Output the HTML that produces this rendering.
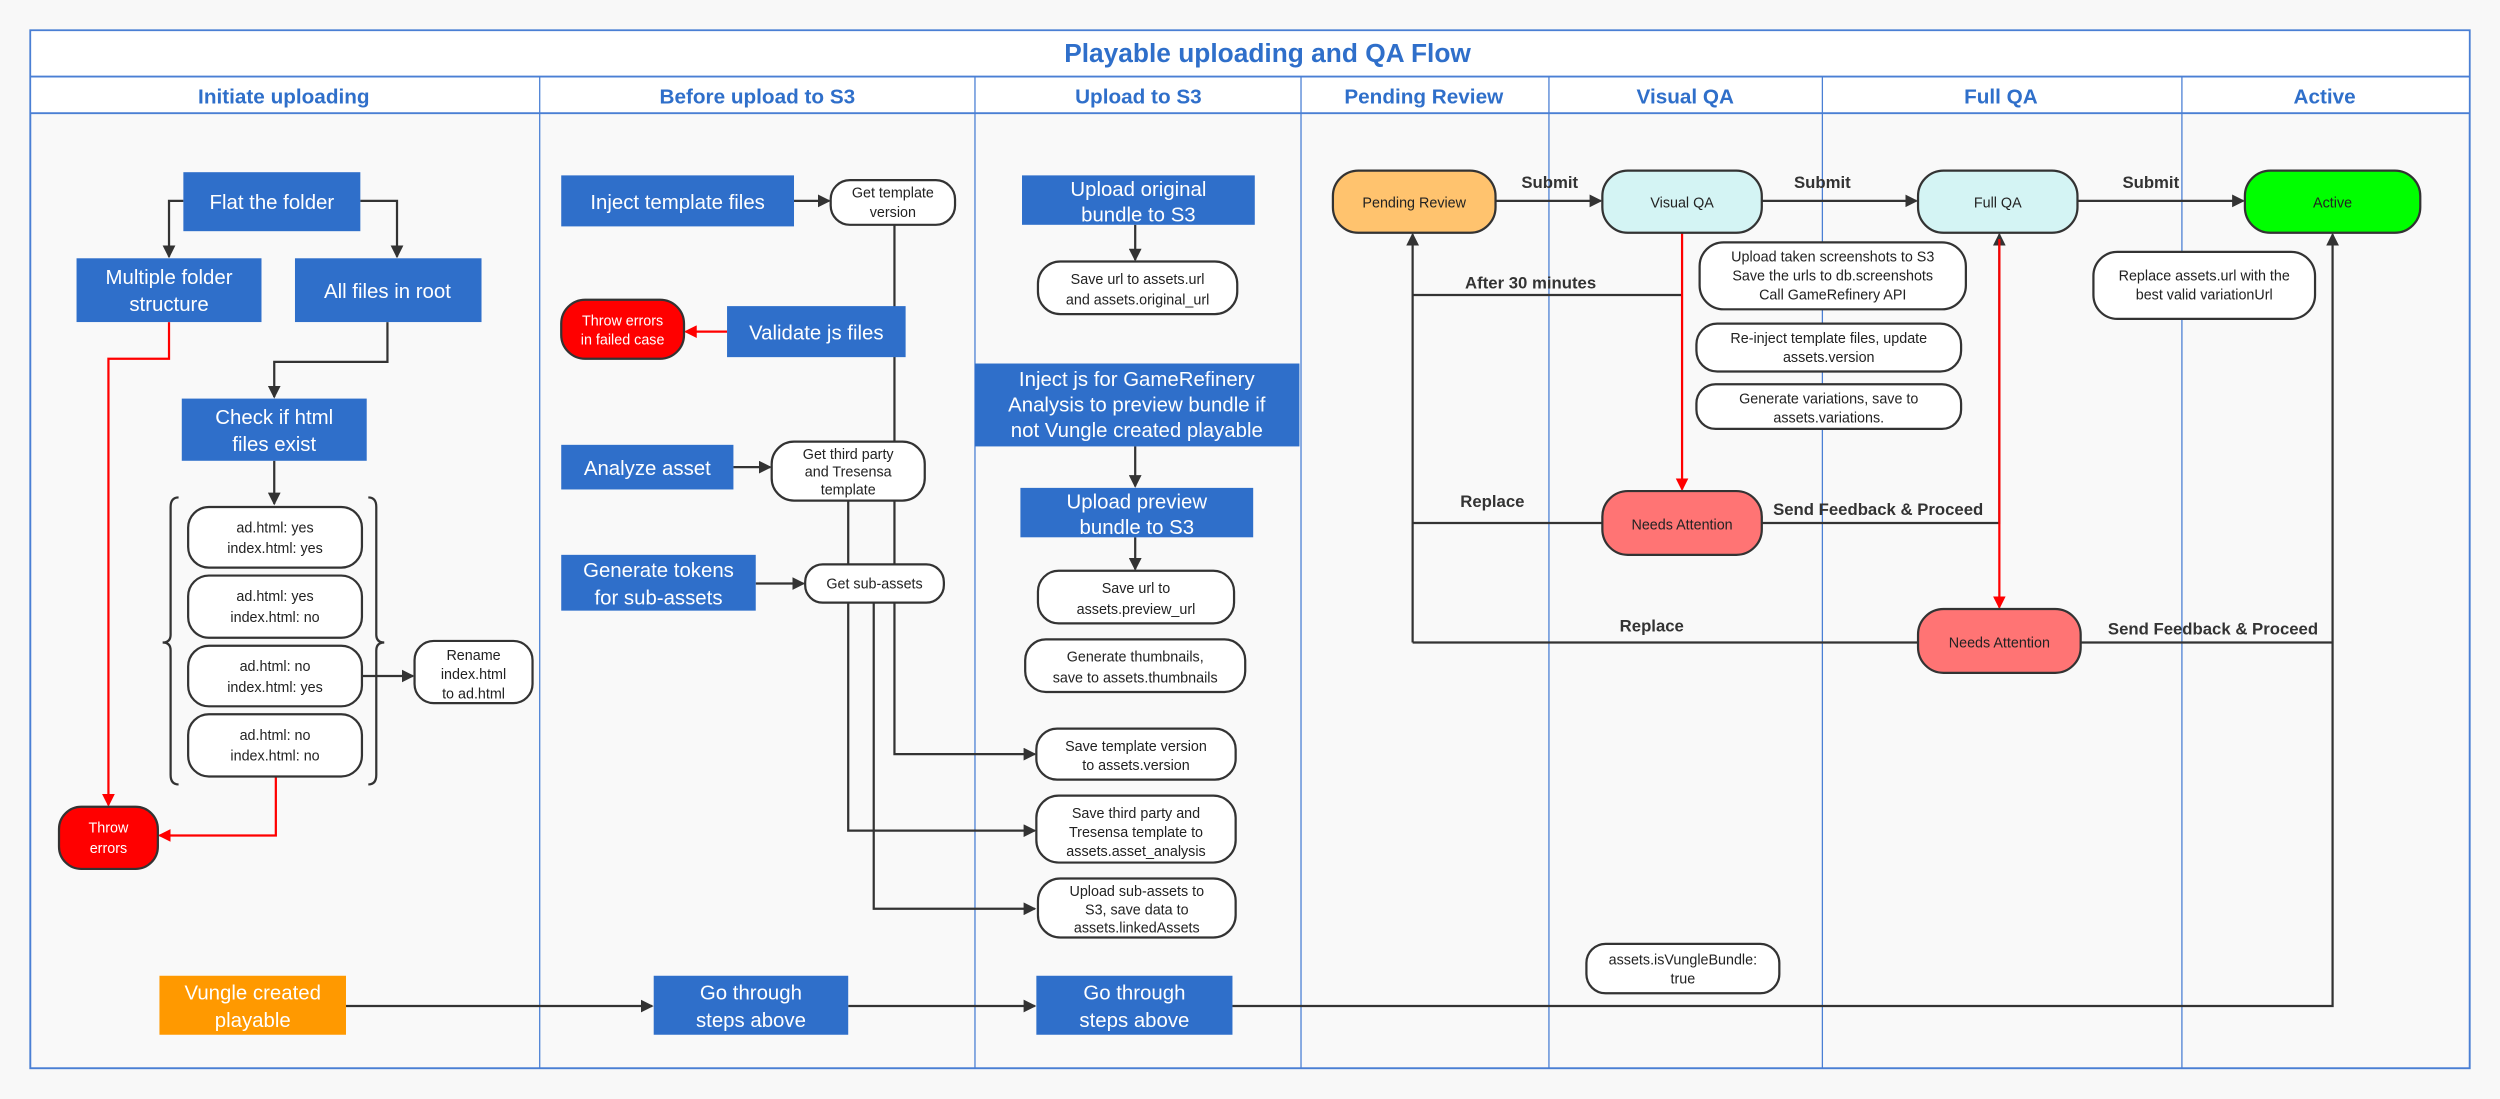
<!DOCTYPE html>
<html><head><meta charset="utf-8"><style>
html,body{margin:0;padding:0;background:#f8f8f8;}
svg{display:block;}
text{font-family:"Liberation Sans",sans-serif;}
.b{fill:#2f6fca;}
.bt{fill:#fff;font-size:12.8px;text-anchor:middle;}
.p{fill:#fff;stroke:#333;stroke-width:1.4;}
.pt{fill:#222;font-size:9px;text-anchor:middle;}
.h{fill:#2f6fca;font-size:13px;font-weight:bold;text-anchor:middle;}
.l{stroke:#333;stroke-width:1.4;fill:none;}
.r{stroke:#f00;stroke-width:1.4;fill:none;}
.lb{fill:#333;font-size:10.5px;font-weight:bold;text-anchor:middle;}
.col{stroke:#4a7fd4;stroke-width:0.8;}
</style></head><body>
<svg width="2500" height="1099" viewBox="0 0 1568 689.3" xmlns="http://www.w3.org/2000/svg">
<defs>
<marker id="a" markerWidth="8" markerHeight="8" refX="7" refY="4" orient="auto" markerUnits="userSpaceOnUse"><path d="M0,0 L8,4 L0,8z" fill="#333"/></marker>
<marker id="ar" markerWidth="8" markerHeight="8" refX="7" refY="4" orient="auto" markerUnits="userSpaceOnUse"><path d="M0,0 L8,4 L0,8z" fill="#f00"/></marker>
</defs>
<rect x="0" y="0" width="1568" height="690" fill="#f8f8f8"/>
<rect x="19" y="19" width="1530" height="651" fill="#f9f9f9" stroke="#4a7fd4" stroke-width="1.2"/>
<rect x="19.6" y="19.6" width="1528.8" height="51.4" fill="#fff"/>
<line x1="19" y1="48" x2="1549" y2="48" stroke="#4a7fd4" stroke-width="1.2"/>
<line x1="19" y1="71" x2="1549" y2="71" stroke="#4a7fd4" stroke-width="1.2"/>
<g class="col">
<line x1="338.5" y1="48" x2="338.5" y2="670"/><line x1="611.5" y1="48" x2="611.5" y2="670"/>
<line x1="816" y1="48" x2="816" y2="670"/><line x1="971.5" y1="48" x2="971.5" y2="670"/>
<line x1="1143" y1="48" x2="1143" y2="670"/><line x1="1368.5" y1="48" x2="1368.5" y2="670"/>
</g>
<text x="795" y="39" style="fill:#2f6fca;font-size:16.5px;font-weight:bold;text-anchor:middle">Playable uploading and QA Flow</text>
<text class="h" x="178" y="65">Initiate uploading</text>
<text class="h" x="475" y="65">Before upload to S3</text>
<text class="h" x="714" y="65">Upload to S3</text>
<text class="h" x="893" y="65">Pending Review</text>
<text class="h" x="1057" y="65">Visual QA</text>
<text class="h" x="1255" y="65">Full QA</text>
<text class="h" x="1458" y="65">Active</text>

<path class="l" d="M115,126 H106 V161" marker-end="url(#a)"/>
<path class="l" d="M226,126 H249 V161" marker-end="url(#a)"/>
<path class="l" d="M243,202 V227 H172 V249" marker-end="url(#a)"/>
<path class="l" d="M172,289 V316" marker-end="url(#a)"/>
<path class="r" d="M106,202 V225 H68 V505" marker-end="url(#ar)"/>
<path class="r" d="M173,487 V524 H100" marker-end="url(#ar)"/>
<path class="l" d="M227,424 H259" marker-end="url(#a)"/>
<path class="l" d="M217,631 H409" marker-end="url(#a)"/>
<path class="l" d="M112,312 Q107,312 107,318 V398 Q107,403 102,403 Q107,403 107,408 V486 Q107,492 112,492"/>
<path class="l" d="M231,312 Q236,312 236,318 V398 Q236,403 241,403 Q236,403 236,408 V486 Q236,492 231,492"/>

<rect class="b" x="115" y="108" width="111" height="37"/><text class="bt" x="170.5" y="131">Flat the folder</text>
<rect class="b" x="48" y="162" width="116" height="40"/><text class="bt" x="106" y="178">Multiple folder</text><text class="bt" x="106" y="195">structure</text>
<rect class="b" x="185" y="162" width="117" height="40"/><text class="bt" x="243" y="187">All files in root</text>
<rect class="b" x="114" y="250" width="116" height="39"/><text class="bt" x="172" y="266">Check if html</text><text class="bt" x="172" y="283">files exist</text>
<rect class="p" x="118" y="318" width="109" height="38" rx="13"/><text class="pt" x="172.5" y="334">ad.html: yes</text><text class="pt" x="172.5" y="347">index.html: yes</text>
<rect class="p" x="118" y="361" width="109" height="39" rx="13"/><text class="pt" x="172.5" y="377">ad.html: yes</text><text class="pt" x="172.5" y="390">index.html: no</text>
<rect class="p" x="118" y="405" width="109" height="38" rx="13"/><text class="pt" x="172.5" y="421">ad.html: no</text><text class="pt" x="172.5" y="434">index.html: yes</text>
<rect class="p" x="118" y="448" width="109" height="39" rx="13"/><text class="pt" x="172.5" y="464">ad.html: no</text><text class="pt" x="172.5" y="477">index.html: no</text>
<rect class="p" x="260" y="402" width="74" height="39" rx="12"/><text class="pt" x="297" y="414">Rename</text><text class="pt" x="297" y="426">index.html</text><text class="pt" x="297" y="438">to ad.html</text>
<rect x="37" y="506" width="62" height="39" rx="14" fill="#f00" stroke="#333" stroke-width="1.4"/><text class="pt" style="fill:#fff" x="68" y="522">Throw</text><text class="pt" style="fill:#fff" x="68" y="535">errors</text>
<rect x="100" y="612" width="117" height="37" fill="#ff9900"/><text class="bt" x="158.5" y="627">Vungle created</text><text class="bt" x="158.5" y="644">playable</text>

<path class="l" d="M498,126 H520" marker-end="url(#a)"/>
<path class="r" d="M456,208 H430" marker-end="url(#ar)"/>
<path class="l" d="M460,293 H483" marker-end="url(#a)"/>
<path class="l" d="M474,366 H504" marker-end="url(#a)"/>
<path class="l" d="M561,141 V473 H649" marker-end="url(#a)"/>
<path class="l" d="M532,314 V521 H649" marker-end="url(#a)"/>
<path class="l" d="M548,378 V570 H649" marker-end="url(#a)"/>
<path class="l" d="M532,631 H649" marker-end="url(#a)"/>

<rect class="b" x="352" y="110" width="146" height="32"/><text class="bt" x="425" y="131">Inject template files</text>
<rect class="p" x="521" y="113" width="78" height="28" rx="12"/><text class="pt" x="560" y="124">Get template</text><text class="pt" x="560" y="136">version</text>
<rect x="352" y="188" width="77" height="37" rx="15" fill="#f00" stroke="#333" stroke-width="1.4"/><text class="pt" style="fill:#fff" x="390.5" y="204">Throw errors</text><text class="pt" style="fill:#fff" x="390.5" y="216">in failed case</text>
<rect class="b" x="456" y="192" width="112" height="32"/><text class="bt" x="512" y="213">Validate js files</text>
<rect class="b" x="352" y="279" width="108" height="28"/><text class="bt" x="406" y="298">Analyze asset</text>
<rect class="p" x="484" y="277" width="96" height="37" rx="14"/><text class="pt" x="532" y="288">Get third party</text><text class="pt" x="532" y="299">and Tresensa</text><text class="pt" x="532" y="310">template</text>
<rect class="b" x="352" y="348" width="122" height="35"/><text class="bt" x="413" y="362">Generate tokens</text><text class="bt" x="413" y="379">for sub-assets</text>
<rect class="p" x="505" y="354" width="87" height="24" rx="11"/><text class="pt" x="548.5" y="369">Get sub-assets</text>
<rect class="b" x="410" y="612" width="122" height="37"/><text class="bt" x="471" y="627">Go through</text><text class="bt" x="471" y="644">steps above</text>

<path class="l" d="M712,141 V163" marker-end="url(#a)"/>
<path class="l" d="M712,280 V305" marker-end="url(#a)"/>
<path class="l" d="M712,337 V357" marker-end="url(#a)"/>
<path class="l" d="M773,631 H1463 V147" marker-end="url(#a)"/>
<rect class="b" x="641" y="110" width="146" height="31"/><text class="bt" x="714" y="123">Upload original</text><text class="bt" x="714" y="139">bundle to S3</text>
<rect class="p" x="651" y="164" width="125" height="33" rx="14"/><text class="pt" x="713.5" y="178">Save url to assets.url</text><text class="pt" x="713.5" y="191">and assets.original_url</text>
<rect class="b" x="611.5" y="228" width="203.5" height="52"/><text class="bt" x="713" y="242">Inject js for GameRefinery</text><text class="bt" x="713" y="258">Analysis to preview bundle if</text><text class="bt" x="713" y="274">not Vungle created playable</text>
<rect class="b" x="640" y="306" width="146" height="31"/><text class="bt" x="713" y="319">Upload preview</text><text class="bt" x="713" y="335">bundle to S3</text>
<rect class="p" x="651" y="358" width="123" height="33" rx="13"/><text class="pt" x="712.5" y="372">Save url to</text><text class="pt" x="712.5" y="385">assets.preview_url</text>
<rect class="p" x="643" y="401" width="138" height="33" rx="13"/><text class="pt" x="712" y="415">Generate thumbnails,</text><text class="pt" x="712" y="428">save to assets.thumbnails</text>
<rect class="p" x="650" y="457" width="125" height="32" rx="13"/><text class="pt" x="712.5" y="471">Save template version</text><text class="pt" x="712.5" y="483">to assets.version</text>
<rect class="p" x="650" y="499" width="125" height="42" rx="14"/><text class="pt" x="712.5" y="513">Save third party and</text><text class="pt" x="712.5" y="525">Tresensa template to</text><text class="pt" x="712.5" y="537">assets.asset_analysis</text>
<rect class="p" x="651" y="551" width="124" height="37" rx="14"/><text class="pt" x="713" y="562">Upload sub-assets to</text><text class="pt" x="713" y="573.5">S3, save data to</text><text class="pt" x="713" y="585">assets.linkedAssets</text>
<rect class="b" x="650" y="612" width="123" height="37"/><text class="bt" x="711.5" y="627">Go through</text><text class="bt" x="711.5" y="644">steps above</text>

<path class="l" d="M938,126 H1004" marker-end="url(#a)"/>
<path class="l" d="M1105,126 H1202" marker-end="url(#a)"/>
<path class="l" d="M1303,126 H1407" marker-end="url(#a)"/>
<path class="l" d="M1055,185 H886"/>
<path class="l" d="M886,403 V147" marker-end="url(#a)"/>
<path class="l" d="M1005,328 H886"/>
<path class="l" d="M1105,328 H1254 V147" marker-end="url(#a)"/>
<path class="r" d="M1055,146 V307" marker-end="url(#ar)"/>
<path class="r" d="M1254,150 V381" marker-end="url(#ar)"/>
<path class="l" d="M1203,403 H886"/>
<path class="l" d="M1305,403 H1463"/>
<text class="lb" x="972" y="118">Submit</text>
<text class="lb" x="1143" y="118">Submit</text>
<text class="lb" x="1349" y="118">Submit</text>
<text class="lb" x="960" y="181">After 30 minutes</text>
<text class="lb" x="936" y="318">Replace</text>
<text class="lb" x="1036" y="396">Replace</text>
<text class="lb" x="1178" y="323">Send Feedback &amp; Proceed</text>
<text class="lb" x="1388" y="398">Send Feedback &amp; Proceed</text>

<rect x="836" y="107" width="102" height="39" rx="16" fill="#ffc36e" stroke="#333" stroke-width="1.4"/><text class="pt" x="887" y="130">Pending Review</text>
<rect x="1005" y="107" width="100" height="39" rx="16" fill="#d4f4f4" stroke="#333" stroke-width="1.4"/><text class="pt" x="1055" y="130">Visual QA</text>
<rect x="1203" y="107" width="100" height="39" rx="16" fill="#d4f4f4" stroke="#333" stroke-width="1.4"/><text class="pt" x="1253" y="130">Full QA</text>
<rect x="1408" y="107" width="110" height="39" rx="16" fill="#00ff00" stroke="#333" stroke-width="1.4"/><text class="pt" x="1463" y="130">Active</text>
<rect x="1005" y="308" width="100" height="40" rx="16" fill="#ff7474" stroke="#333" stroke-width="1.4"/><text class="pt" x="1055" y="332">Needs Attention</text>
<rect x="1203" y="382" width="102" height="40" rx="16" fill="#ff7474" stroke="#333" stroke-width="1.4"/><text class="pt" x="1254" y="406">Needs Attention</text>

<rect class="p" x="1066" y="152" width="167" height="42" rx="15"/><text class="pt" x="1149.5" y="164">Upload taken screenshots to S3</text><text class="pt" x="1149.5" y="176">Save the urls to db.screenshots</text><text class="pt" x="1149.5" y="188">Call GameRefinery API</text>
<rect class="p" x="1064" y="203" width="166" height="30" rx="13"/><text class="pt" x="1147" y="215">Re-inject template files, update</text><text class="pt" x="1147" y="227">assets.version</text>
<rect class="p" x="1064" y="241" width="166" height="28" rx="12"/><text class="pt" x="1147" y="253">Generate variations, save to</text><text class="pt" x="1147" y="265">assets.variations.</text>
<rect class="p" x="1313" y="158" width="139" height="42" rx="15"/><text class="pt" x="1382.5" y="176">Replace assets.url with the</text><text class="pt" x="1382.5" y="188">best valid variationUrl</text>
<rect class="p" x="995" y="592" width="121" height="31" rx="12"/><text class="pt" x="1055.5" y="605">assets.isVungleBundle:</text><text class="pt" x="1055.5" y="617">true</text>
</svg>
</body></html>
